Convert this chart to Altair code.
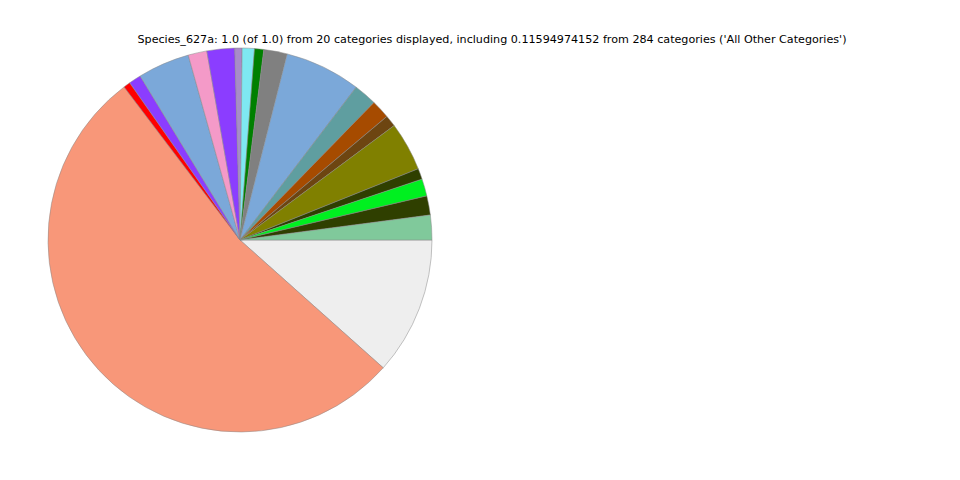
import math
import altair as alt
import pandas as pd

title_text = ("Species_627a: 1.0 (of 1.0) from 20 categories displayed, including "
              "0.11594974152 from 284 categories ('All Other Categories')")

# clockwise from 3 o'clock
categories = ["All Other Categories", "Category 19", "Category 18", "Category 17",
              "Category 16", "Category 15", "Category 14", "Category 13",
              "Category 12", "Category 11", "Category 10", "Category 9",
              "Category 8", "Category 7", "Category 6", "Category 5",
              "Category 4", "Category 3", "Category 2", "Category 1"]
values = [0.11594974152, 0.5308, 0.0058, 0.0103, 0.0436, 0.0158, 0.0233, 0.0061,
          0.0103, 0.0078, 0.0197, 0.0639, 0.0194, 0.0158, 0.0097, 0.0411,
          0.0092, 0.0144, 0.0161, 0.0208]
colors = ["#eeeeee", "#f89779", "#ff0000", "#8b3dff", "#7ba8d9", "#f49ac8",
          "#8b3dff", "#a88bc9", "#7ee8f2", "#008000", "#808080", "#7ba8d9",
          "#5f9ea0", "#a64b00", "#6d4511", "#808000", "#2f3f00", "#00f020",
          "#2f3f00", "#80c99b"]

df = pd.DataFrame({"category": categories, "value": values,
                   "idx": list(range(len(categories)))})

pie = alt.Chart(df).mark_arc(radius=192, stroke="#888888", strokeWidth=0.5).encode(
    theta=alt.Theta("value:Q", stack=True,
                    scale=alt.Scale(range=[math.pi / 2, math.pi / 2 + 2 * math.pi])),
    order=alt.Order("idx:Q"),
    color=alt.Color("category:N", scale=alt.Scale(domain=categories, range=colors),
                    legend=None),
    x=alt.value(232),
    y=alt.value(232),
)

title = alt.Chart(pd.DataFrame({"t": [title_text]})).mark_text(
    font="DejaVu Sans", fontSize=11.15, color="black", baseline="middle", align="center"
).encode(text="t:N", x=alt.value(484), y=alt.value(32))

chart = alt.layer(pie, title).properties(
    width=944, height=464,
    autosize=alt.AutoSizeParams(type="none"),
    padding=0,
).configure_view(stroke=None)

chart.save("out.html", embed_options={"renderer": "svg", "actions": False})
